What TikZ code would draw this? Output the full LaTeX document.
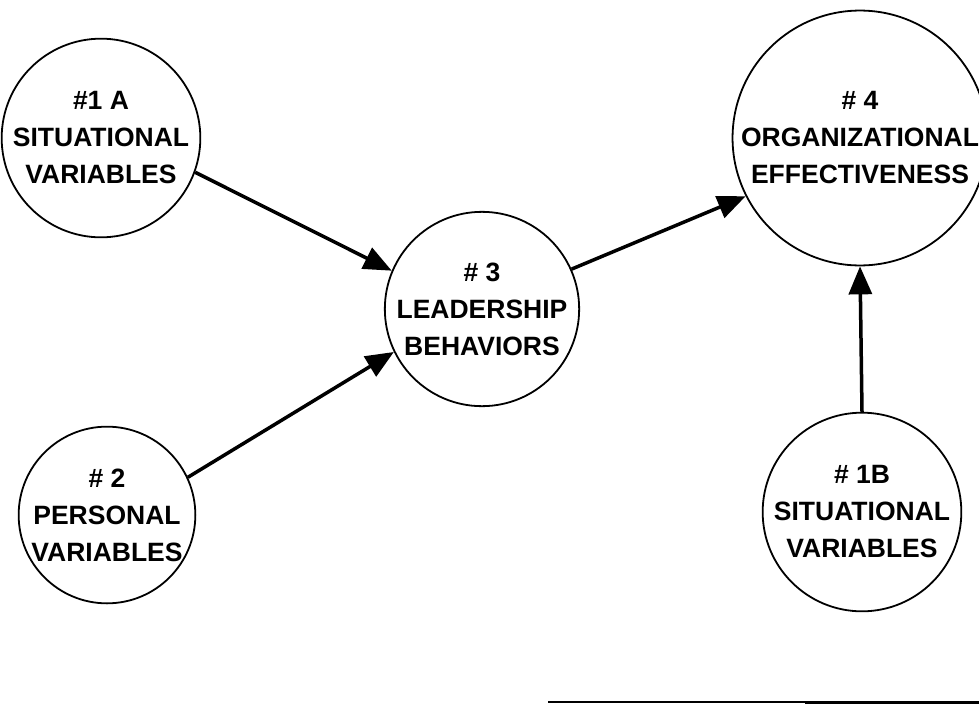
\documentclass[tikz,border=0pt]{standalone}
\usepackage{fontspec}
\setmainfont{Liberation Sans}
\usetikzlibrary{arrows.meta, positioning}

\begin{document}
\begin{tikzpicture}[x=1pt, y=-1pt,
    var/.style={circle, draw, line width=1.8pt, align=center, inner sep=0pt,
      font=\fontsize{26.5}{37}\selectfont\bfseries},
    link/.style={line width=3.5pt, -{Triangle[length=28pt, width=23pt]}}]
  \useasboundingbox (0,0) rectangle (979,704);
  % Variables
  \node[var, minimum size=194pt] (sitA) at (101,138) {\#1 A\\SITUATIONAL\\VARIABLES};
  \node[var, minimum size=166pt] (pers) at (107,515) {\# 2\\PERSONAL\\VARIABLES};
  \node[var, minimum size=182pt] (lead) at (482,309) {\# 3\\LEADERSHIP\\BEHAVIORS};
  \node[var, minimum size=250pt] (org) at (860,138) {\# 4\\ORGANIZATIONAL\\EFFECTIVENESS};
  \node[var, minimum size=188pt] (sitB) at (862,512) {\# 1B\\SITUATIONAL\\VARIABLES};
  % Links
  \draw[link] (sitA.-20) -- (lead.157);
  \draw[link] (pers.25) -- (lead.206);
  \draw[link] (lead.24) -- (org.207);
  \draw[link] (sitB.north) -- (org.south);
  % Bottom rule
  \draw[line width=1.5pt] (548,702) -- (979,702);
  \draw[line width=3pt] (805,702) -- (979,702);
\end{tikzpicture}
\end{document}
